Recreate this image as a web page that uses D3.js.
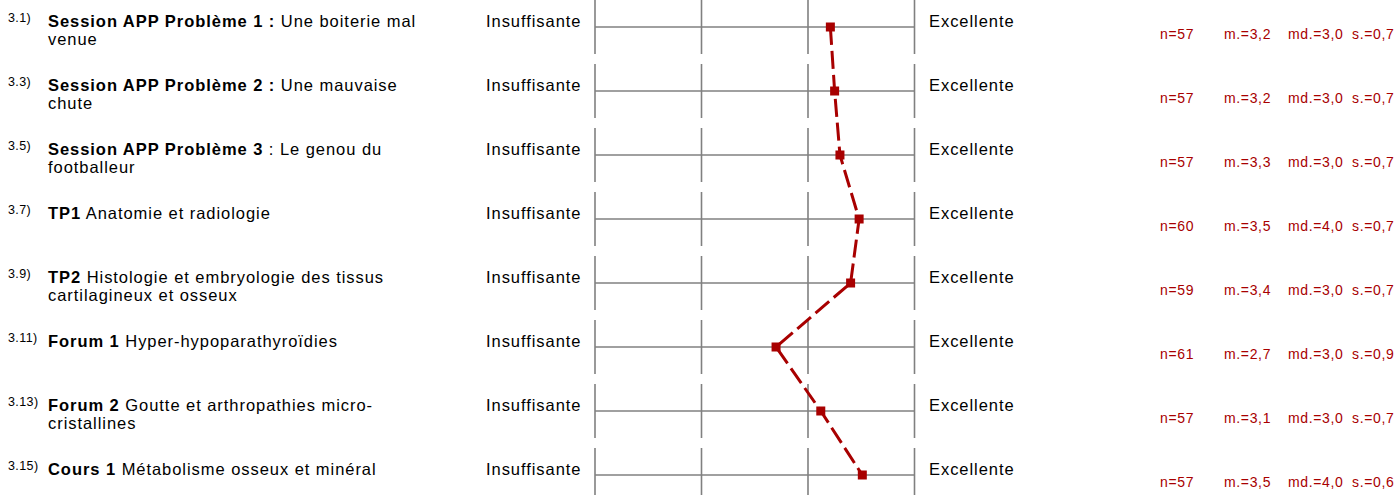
<!DOCTYPE html>
<html><head><meta charset="utf-8">
<script src="https://cdn.jsdelivr.net/npm/d3@7"></script>
<style>body{margin:0;background:#fff;} svg{display:block;font-family:"Liberation Sans",Arial,sans-serif;}</style>
</head><body>
<script>
const prefixes = ["3.1)","3.3)","3.5)","3.7)","3.9)","3.11)","3.13)","3.15)"];
const boldParts = ["Session APP Problème 1 :","Session APP Problème 2 :","Session APP Problème 3","TP1","TP2","Forum 1","Forum 2","Cours 1"];
const restLine1 = [" Une boiterie mal"," Une mauvaise"," : Le genou du"," Anatomie et radiologie"," Histologie et embryologie des tissus"," Hyper-hypoparathyroïdies"," Goutte et arthropathies micro-"," Métabolisme osseux et minéral"];
const restLine2 = ["venue","chute","footballeur","","cartilagineux et osseux","","cristallines",""];
const means = [3.21,3.25,3.30,3.48,3.40,2.70,3.12,3.51];
const nVals = [57,57,57,60,59,61,57,57];
const mLabels = ["3,2","3,2","3,3","3,5","3,4","2,7","3,1","3,5"];
const mdLabels = ["3,0","3,0","3,0","4,0","3,0","3,0","3,0","4,0"];
const sLabels = ["0,7","0,7","0,7","0,7","0,7","0,9","0,7","0,6"];
const scaleTicks = [1,2,3,4];
const leftLabel = "Insuffisante", rightLabel = "Excellente";

const W = 1399, H = 495;
const svg = d3.select("body").append("svg").attr("width", W).attr("height", H);
const x = d3.scaleLinear().domain([1,4]).range([595, 914.5]);
const y = d3.scalePoint().domain(d3.range(prefixes.length)).range([27, 475]);
const red = "#a80000";
const grey = "#808080";
const fs = 16.5, ls = 0.95;

const rows = svg.selectAll("g.row").data(d3.range(prefixes.length)).join("g").attr("class","row")
  .attr("transform", i => `translate(0,${y(i)})`);

// grid
rows.append("line").attr("x1", x(1)).attr("x2", x(4)).attr("y1",0).attr("y2",0)
  .attr("stroke", grey).attr("stroke-width", 1.6);
rows.selectAll("line.tick").data(scaleTicks).join("line").attr("class","tick")
  .attr("x1", d => x(d)).attr("x2", d => x(d)).attr("y1", -27).attr("y2", 27)
  .attr("stroke", grey).attr("stroke-width", 1.6);

// labels
rows.append("text").attr("x", 486).attr("y", 0)
  .attr("font-size", fs).attr("letter-spacing", ls).attr("fill","#000").text(leftLabel);
rows.append("text").attr("x", 929).attr("y", 0)
  .attr("font-size", fs).attr("letter-spacing", ls).attr("fill","#000").text(rightLabel);

rows.append("text").attr("x", 8).attr("y", -5).attr("font-size", 12.5).attr("letter-spacing", 0.4).attr("fill","#000")
  .text(i => prefixes[i]);
const t1 = rows.append("text").attr("x", 48).attr("y", 0).attr("font-size", fs).attr("letter-spacing", ls).attr("fill","#000");
t1.append("tspan").attr("font-weight","bold").text(i => boldParts[i]);
t1.append("tspan").text(i => restLine1[i]);
rows.append("text").attr("x", 48).attr("y", 18).attr("font-size", fs).attr("letter-spacing", ls).attr("fill","#000")
  .text(i => restLine2[i]);

// stats
const st = rows.append("g").attr("fill", red).attr("font-size", 14).attr("letter-spacing", 0.65);
st.append("text").attr("x", 1160).attr("y", 12).text(i => "n=" + nVals[i]);
st.append("text").attr("x", 1224).attr("y", 12).text(i => "m.=" + mLabels[i]);
st.append("text").attr("x", 1288).attr("y", 12).text(i => "md.=" + mdLabels[i]);
st.append("text").attr("x", 1352).attr("y", 12).text(i => "s.=" + sLabels[i]);

// profile line
const line = d3.line().x(d => x(d[0])).y(d => y(d[1]));
svg.append("path").datum(means.map((m,i)=>[m,i])).attr("d", line)
  .attr("fill","none").attr("stroke", red).attr("stroke-width", 3)
  .attr("stroke-dasharray","18,6");
svg.selectAll("rect.pt").data(means).join("rect").attr("class","pt")
  .attr("x", d => x(d) - 4.5).attr("y", (d,i) => y(i) - 4.5)
  .attr("width", 9).attr("height", 9).attr("fill", red);
</script>
</body></html>
